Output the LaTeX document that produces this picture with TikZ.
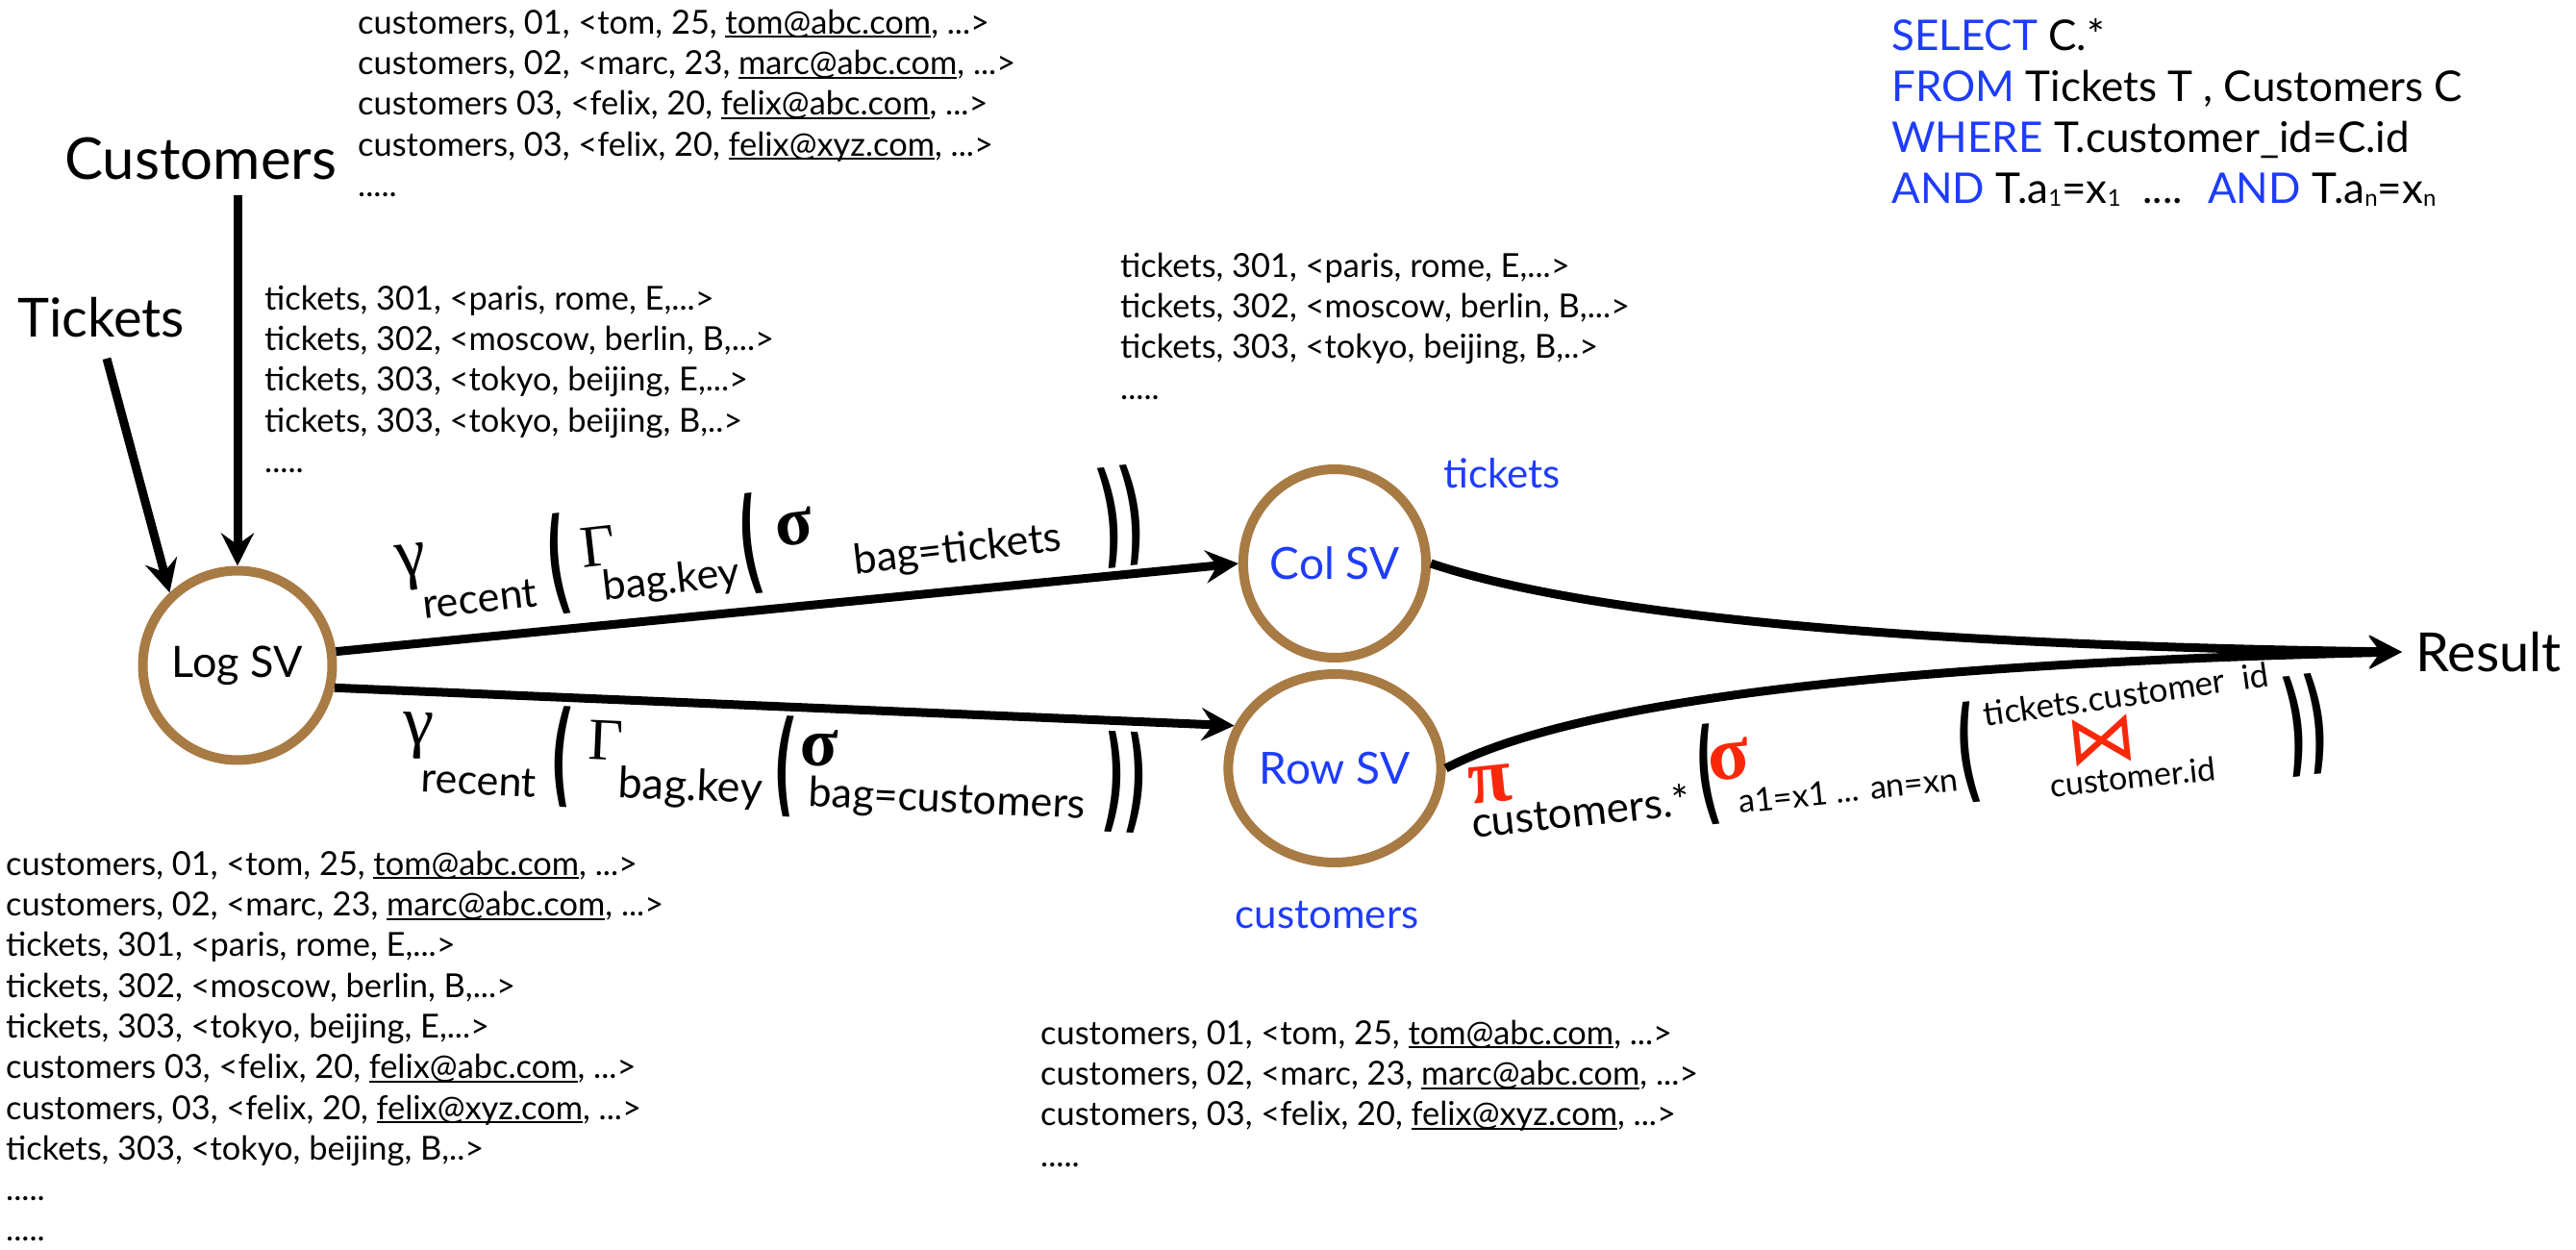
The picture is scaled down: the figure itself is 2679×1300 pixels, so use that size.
\documentclass[tikz,border=0pt]{standalone}
\usepackage{fontspec}
\usepackage{graphicx}
\setmainfont{Lato}
\newfontfamily\grk{Liberation Serif}
\newfontfamily\djv{DejaVu Sans}
\usetikzlibrary{arrows.meta,shapes.geometric}
\definecolor{svbrown}{RGB}{168,122,68}
\definecolor{kwblue}{RGB}{30,60,250}
\definecolor{opred}{RGB}{250,40,10}
\newcommand\fs[1]{\fontsize{#1}{#1}\selectfont}
\newcommand\uml[1]{\setbox0\hbox{#1}\rlap{\rule[-4pt]{\wd0}{1.8pt}}\box0}
\newcommand\bp[1]{{\djv\bfseries\fs{62}\scalebox{0.8}[1.9]{#1}}}
\newcommand\sbx[1]{\raisebox{-3pt}{\fs{24}#1}}
\newcommand\kw[1]{{\color{kwblue}#1}}
\tikzset{
  conn/.style={line width=9pt,-{Stealth[length=34pt,width=34pt,inset=12pt]}},
  svnode/.style={draw=svbrown,line width=10pt,outer sep=5pt,inner sep=0pt},
  datalist/.style={anchor=north west,inner sep=0pt,align=left,font=\fontsize{34.4}{42.3}\selectfont},
  biglabel/.style={anchor=base west,inner sep=0pt,font=\fs{60}},
  lbl/.style={inner sep=0pt},
  subtxt/.style={inner sep=0pt,font=\fs{43}},
}
\begin{document}
\begin{tikzpicture}[x=1pt,y=-1pt]
\fill[white] (0,0) rectangle (2679,1300);
\useasboundingbox (0,0) rectangle (2679,1300);

% data lists
\node[datalist] (toplist) at (372,9) {\rule{0pt}{26pt}customers, 01, <tom, 25, \uml{tom@abc.com}, ...>\\
customers, 02, <marc, 23, \uml{marc@abc.com}, ...>\\
customers 03, <felix, 20, \uml{felix@abc.com}, ...>\\
customers, 03, <felix, 20, \uml{felix@xyz.com}, ...>\\
.....};
\node[datalist] (ticklist) at (275,296) {\rule{0pt}{26pt}tickets, 301, <paris, rome, E,...>\\
tickets, 302, <moscow, berlin, B,...>\\
tickets, 303, <tokyo, beijing, E,...>\\
tickets, 303, <tokyo, beijing, B,..>\\
.....};
\node[datalist] (collist) at (1165,262) {\rule{0pt}{26pt}tickets, 301, <paris, rome, E,...>\\
tickets, 302, <moscow, berlin, B,...>\\
tickets, 303, <tokyo, beijing, B,..>\\
.....};
\node[datalist] (loglist) at (6,884) {\rule{0pt}{26pt}customers, 01, <tom, 25, \uml{tom@abc.com}, ...>\\
customers, 02, <marc, 23, \uml{marc@abc.com}, ...>\\
tickets, 301, <paris, rome, E,...>\\
tickets, 302, <moscow, berlin, B,...>\\
tickets, 303, <tokyo, beijing, E,...>\\
customers 03, <felix, 20, \uml{felix@abc.com}, ...>\\
customers, 03, <felix, 20, \uml{felix@xyz.com}, ...>\\
tickets, 303, <tokyo, beijing, B,..>\\
.....\\
.....};
\node[datalist] (rowlist) at (1082,1060) {\rule{0pt}{26pt}customers, 01, <tom, 25, \uml{tom@abc.com}, ...>\\
customers, 02, <marc, 23, \uml{marc@abc.com}, ...>\\
customers, 03, <felix, 20, \uml{felix@xyz.com}, ...>\\
.....};

% SQL
\node[anchor=north west,inner sep=0pt,align=left,font=\fontsize{44}{53}\selectfont] (sql) at (1967,18)
 {\rule{0pt}{34pt}\kw{SELECT} C.*\\
 \kw{FROM} Tickets T , Customers C\\
 \kw{WHERE} T.customer\_id=C.id\\
 \kw{AND} T.a\sbx{1}=x\sbx{1} \ .... \ \kw{AND} T.a\sbx{n}=x\sbx{n}};

% sources
\node[biglabel] (cust) at (67,187) {Customers};
\node[biglabel,font=\fs{56}] (tick) at (18,350) {Tickets};

% views
\node[svnode,circle,minimum size=197pt,font=\fs{45}] (logsv) at (247,692) {Log SV};
\node[svnode,ellipse,minimum width=190pt,minimum height=196pt,text=kwblue,font=\fs{46}] (colsv) at (1388,586) {Col SV};
\node[svnode,ellipse,minimum width=190pt,minimum height=196pt,text=kwblue,font=\fs{46}] (rowsv) at (1388,799) {Row SV};
\node[lbl,text=kwblue,font=\fs{42}] (coltag) at (1562,492) {tickets};
\node[lbl,text=kwblue,font=\fs{42}] (rowtag) at (1380,952) {customers};
\node[anchor=west,inner xsep=14pt,inner ysep=0pt,font=\fs{56}] (res) at (2498,678) {Result};

% connectors
\draw[conn,shorten <=15pt] (cust.south -| logsv.north) -- (logsv.north);
\draw[conn,shorten <=23pt] (tick.south) -- (logsv.133);
\draw[conn] (logsv.8.5) -- (colsv.west);
\draw[conn] (logsv.-13) -- (rowsv.157);
\draw[conn] (colsv.east) .. controls (1620,630) and (1900,670) .. (res.west);
\draw[conn] (rowsv.east) .. controls (1620,738) and (1900,692) .. (res.west);

% upper expression
\begin{scope}[every node/.append style={rotate=6.5}]
\node[lbl] (ua) at (428,590) {\grk\fs{72}γ};
\node[subtxt] (ub) at (499,623) {recent};
\node[lbl] (uc) at (581,587) {\bp{(}};
\node[lbl] (ud) at (622,568) {\grk\fs{62}Γ};
\node[subtxt] (ue) at (698,605) {bag.key};
\node[lbl] (uf) at (781,566) {\bp{(}};
\node[lbl] (ug) at (826,548) {\grk\bfseries\fs{72}σ};
\node[subtxt] (uh) at (996,573) {bag=tickets};
\node[lbl] (ui) at (1166,537) {\bp{))}};
\end{scope}

% lower expression
\begin{scope}[every node/.append style={rotate=-2.5}]
\node[lbl] (la) at (435,765) {\grk\fs{72}γ};
\node[subtxt] (lb) at (498,812) {recent};
\node[lbl] (lc) at (584,787) {\bp{(}};
\node[lbl] (ld) at (630,770) {\grk\fs{62}Γ};
\node[subtxt,font=\fs{45}] (le) at (718,820) {bag.key};
\node[lbl] (lf) at (816,797) {\bp{(}};
\node[lbl] (lg) at (852,778) {\grk\bfseries\fs{72}σ};
\node[subtxt] (lh) at (985,833) {bag=customers};
\node[lbl] (li) at (1170,814) {\bp{))}};
\end{scope}

% row view expression
\begin{scope}[every node/.append style={rotate=6}]
\node[lbl,text=opred] (ra) at (1550,816) {\grk\bfseries\fs{82}π};
\node[subtxt,font=\fs{44}] (rb) at (1644,843) {customers.*};
\node[lbl] (rc) at (1776,806) {\bp{(}};
\node[lbl,text=opred] (rd) at (1798,790) {\grk\bfseries\fs{80}σ};
\node[subtxt,font=\fs{34}] (re) at (1922,822) {a1=x1 ... an=xn};
\node[lbl] (rf) at (2047,783) {\bp{(}};
\node[subtxt,font=\fs{35},rotate=2] (rg) at (2211,722) {tickets.customer \ id};
\node[lbl,text=opred] (rh) at (2186,770) {\djv\fs{72}⋈};
\node[subtxt,font=\fs{34}] (ri) at (2218,808) {customer.id};
\node[lbl] (rj) at (2398,754) {\bp{))}};
\end{scope}
\end{tikzpicture}
\end{document}
